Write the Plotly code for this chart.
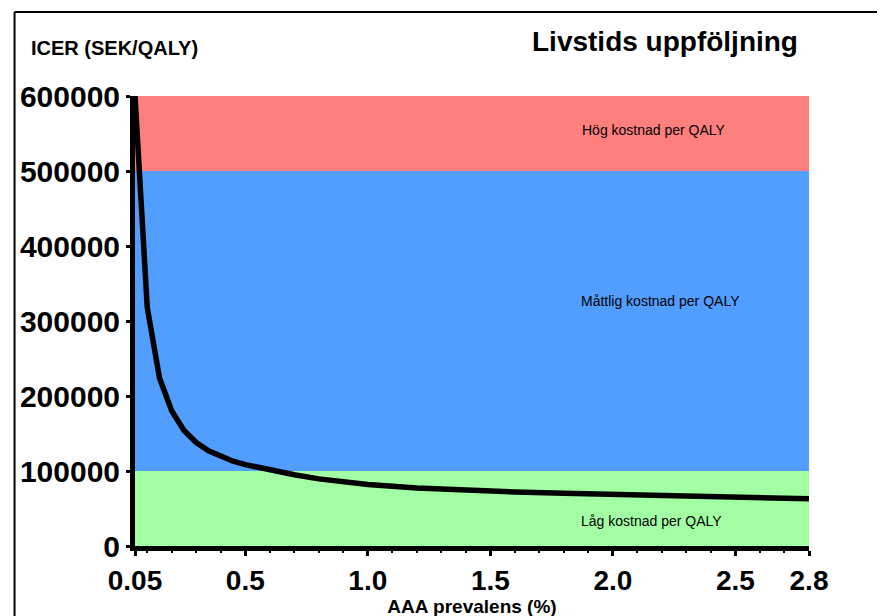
import plotly.graph_objects as go

# Data
prevalence = [0.05, 0.1, 0.15, 0.2, 0.25, 0.3, 0.35, 0.4, 0.45, 0.5, 0.6, 0.7, 0.8, 0.9,
              1.0, 1.2, 1.4, 1.6, 1.8, 2.0, 2.2, 2.4, 2.6, 2.8]
icer = [600000, 318000, 224000, 180000, 154000, 138000, 127000, 119000, 113000, 108500,
        101000, 95000, 89500, 85500, 82000, 77500, 74500, 72000, 70500, 69000, 67500,
        66000, 64500, 63000]

x_tickvals = [0.05, 0.5, 1.0, 1.5, 2.0, 2.5, 2.8]
x_ticktext = ["0.05", "0.5", "1.0", "1.5", "2.0", "2.5", "2.8"]
y_tickvals = [0, 100000, 200000, 300000, 400000, 500000, 600000]
y_ticktext = ["0", "100000", "200000", "300000", "400000", "500000", "600000"]

band_lower = [0, 100000, 500000]
band_upper = [100000, 500000, 600000]
band_colors = ["#a3ffa3", "#519eff", "#ff7f7f"]
band_labels = ["Låg kostnad per QALY", "Måttlig kostnad per QALY", "Hög kostnad per QALY"]
band_label_x = [0.7666, 0.7799, 0.7695]
band_label_y = [34000, 327000, 555000]

x_range = [0.05, 2.8]
y_range = [0, 600000]

FONT = "Liberation Sans, Arial, sans-serif"

fig = go.Figure()

shapes = []
for lo, hi, col in zip(band_lower, band_upper, band_colors):
    shapes.append(dict(type="rect", xref="x", yref="y", x0=x_range[0], x1=x_range[1],
                       y0=lo, y1=hi, fillcolor=col, line=dict(width=0), layer="below"))
# outer frame (top and left edges visible in the reference)
shapes.append(dict(type="line", xref="paper", yref="paper", x0=-0.1787, x1=1.2,
                   y0=1.1867, y1=1.1867, line=dict(color="black", width=2)))
shapes.append(dict(type="line", xref="paper", yref="paper", x0=-0.1787, x1=-0.1787,
                   y0=-0.3, y1=1.1867, line=dict(color="black", width=2)))

fig.add_trace(go.Scatter(x=prevalence, y=icer, mode="lines",
                         line=dict(color="black", width=5.5), showlegend=False,
                         hoverinfo="skip"))

annotations = []
for lab, xx, yy in zip(band_labels, band_label_x, band_label_y):
    annotations.append(dict(x=xx, xref="paper", y=yy, yref="y", text=lab,
                            xanchor="center", yanchor="middle",
                            showarrow=False, font=dict(family=FONT, size=14, color="black")))
annotations.append(dict(x=-0.158, xref="paper", y=1.107, yref="paper", xanchor="left",
                        yanchor="middle", text="<b>ICER (SEK/QALY)</b>", showarrow=False,
                        font=dict(family=FONT, size=20, color="black")))
annotations.append(dict(x=0.787, xref="paper", y=1.12, yref="paper", xanchor="center",
                        yanchor="middle", text="<b>Livstids uppföljning</b>", showarrow=False,
                        font=dict(family=FONT, size=28, color="black")))

fig.update_layout(
    width=885, height=616,
    margin=dict(l=124, r=84, t=88, b=78),
    paper_bgcolor="white", plot_bgcolor="white",
    shapes=shapes, annotations=annotations,
    showlegend=False,
)

fig.update_xaxes(
    range=x_range, tickvals=x_tickvals, ticktext=x_ticktext,
    showgrid=False, zeroline=False,
    showline=True, linecolor="black", linewidth=5,
    ticks="outside", ticklen=5, tickwidth=3, tickcolor="black",
    tickfont=dict(family=FONT, size=28, color="black", weight="bold"),
    minor=dict(tickvals=[0.1, 0.2, 0.3, 0.4, 0.6, 0.7, 0.8, 0.9, 1.1, 1.2, 1.3, 1.4,
                         1.6, 1.7, 1.8, 1.9, 2.1, 2.2, 2.3, 2.4, 2.6, 2.7],
               ticks="outside", ticklen=2, tickwidth=2, tickcolor="black"),
    title=dict(text="<b>AAA prevalens (%)</b>", standoff=1,
               font=dict(family=FONT, size=19, color="black")),
)
fig.update_yaxes(
    range=y_range, tickvals=y_tickvals, ticktext=y_ticktext,
    showgrid=False, zeroline=False,
    showline=True, linecolor="black", linewidth=5,
    ticks="outside", ticklen=4, tickwidth=3, tickcolor="black",
    tickfont=dict(family=FONT, size=30, color="black", weight="bold"),
)

fig.write_html("out.html")
